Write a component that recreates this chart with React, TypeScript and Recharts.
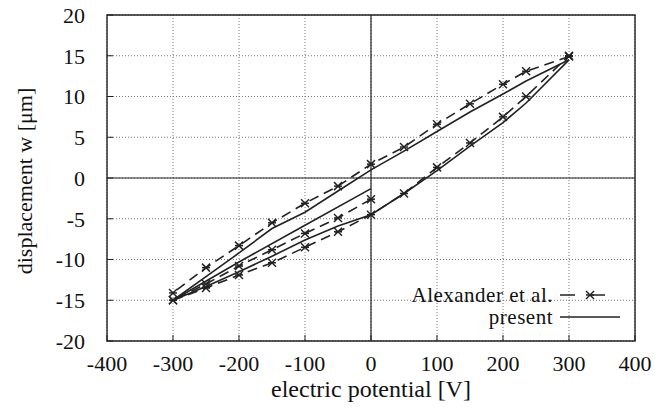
import React from "react";
import { LineChart, Line, XAxis, YAxis, CartesianGrid, ReferenceLine, ReferenceArea } from "recharts";

// descending branch (300 V -> -300 V)
const vDown = [300, 235, 200, 150, 100, 50, 0, -50, -100, -150, -200, -250, -300];
const alexDownW = [14.9, 13.1, 11.5, 9.1, 6.6, 3.8, 1.7, -1.0, -3.1, -5.5, -8.3, -11.0, -14.1];
const presDownW = [14.5, 11.9, 10.3, 8.1, 5.7, 3.3, 1.0, -1.6, -4.2, -6.2, -9.2, -12.1, -15.0];

// ascending branch (-300 V -> 300 V)
const vUp = [-300, -250, -200, -150, -100, -50, 0, 50, 100, 150, 200, 235, 300];
const alexUpW = [-15.0, -13.5, -11.9, -10.4, -8.5, -6.6, -4.5, -1.9, 1.3, 4.3, 7.5, 10.0, 15.0];
const presUpW = [-15.0, -13.3, -11.5, -9.6, -7.6, -5.9, -4.5, -1.9, 0.9, 3.9, 6.8, 9.2, 14.5];

// initial loading (0 V -> -300 V)
const vInitAlex = [0, -50, -100, -150, -200, -250, -300];
const alexInitW = [-2.6, -4.9, -6.8, -8.8, -10.8, -13.0, -15.0];
const vInitPres = [0, -100, -200, -300];
const presInitW = [-1.3, -5.8, -10.3, -15.0];

const xTicks = [-400, -300, -200, -100, 0, 100, 200, 300, 400];
const yTicks = [-20, -15, -10, -5, 0, 5, 10, 15, 20];

const rows = (vs: number[], ws: number[]) => vs.map((v, i) => ({ v, w: ws[i] }));

const font = "Liberation Serif, DejaVu Serif, serif";
const ink = "#222";
const fs = 22;

const Cross = (props: any) => {
  const { cx, cy } = props;
  if (cx == null || cy == null) return null;
  const s = 4;
  return (
    <g stroke={ink} strokeWidth={1.5}>
      <line x1={cx - s} y1={cy - s} x2={cx + s} y2={cy + s} />
      <line x1={cx - s} y1={cy + s} x2={cx + s} y2={cy - s} />
      <line x1={cx - s} y1={cy} x2={cx + s} y2={cy} />
    </g>
  );
};

const LegendBox = () => (
  <div style={{ position: "absolute", left: 340, top: 284, width: 280, fontFamily: font, fontSize: 21, color: "#111", lineHeight: "20px" }}>
    <div style={{ display: "flex", justifyContent: "flex-end", alignItems: "center", height: 22 }}>
      <span style={{ letterSpacing: 0.5 }}>Alexander et al.</span>
      <svg width={60} height={14} style={{ marginLeft: 7 }}>
        <line x1={0} y1={7} x2={60} y2={7} stroke={ink} strokeWidth={1.6} strokeDasharray="15 15" />
        <Cross cx={30} cy={7} />
      </svg>
    </div>
    <div style={{ display: "flex", justifyContent: "flex-end", alignItems: "center", height: 22 }}>
      <span style={{ letterSpacing: 0.5 }}>present</span>
      <svg width={60} height={14} style={{ marginLeft: 7 }}>
        <line x1={0} y1={7} x2={60} y2={7} stroke={ink} strokeWidth={1.6} />
      </svg>
    </div>
  </div>
);

export default function App() {
  const dashed = { stroke: ink, strokeWidth: 1.6, strokeDasharray: "10 6", dot: <Cross />, isAnimationActive: false, legendType: "none" as const };
  const solid = { stroke: ink, strokeWidth: 1.6, dot: false, isAnimationActive: false, legendType: "none" as const };
  return (
    <div style={{ position: "absolute", left: 0, top: 0, width: 655, height: 407, background: "#fff", fontFamily: font }}>
      <LineChart width={655} height={407} margin={{ top: 15, right: 20, bottom: 0, left: 0 }} style={{ fontFamily: font }}>
        <CartesianGrid stroke="#777" strokeDasharray="1 2" />
        <XAxis
          type="number"
          dataKey="v"
          domain={[-400, 400]}
          ticks={xTicks}
          allowDataOverflow
          height={66}
          tickSize={-6}
          tickMargin={20}
          axisLine={false}
          tickLine={{ stroke: ink }}
          tick={{ fill: "#111", fontFamily: font, fontSize: fs }}
          label={() => (
            <text x={371} y={397} textAnchor="middle" style={{ fontFamily: font, fontSize: 24 }} fill="#111">
              electric potential [V]
            </text>
          )}
        />
        <YAxis
          type="number"
          dataKey="w"
          domain={[-20, 20]}
          ticks={yTicks}
          allowDataOverflow
          width={107}
          tickSize={-6}
          tickMargin={28}
          axisLine={false}
          tickLine={{ stroke: ink }}
          tick={{ fill: "#111", fontFamily: font, fontSize: fs }}
          label={() => (
            <text x={32} y={181} transform="rotate(-90 32 181)" textAnchor="middle" style={{ fontFamily: font, fontSize: fs }} fill="#111">
              displacement w [μm]
            </text>
          )}
        />
        <ReferenceLine x={0} stroke={ink} strokeWidth={1.2} />
        <ReferenceLine y={0} stroke={ink} strokeWidth={1.2} />
        <ReferenceArea x1={-400} x2={400} y1={-20} y2={20} fill="none" stroke={ink} strokeWidth={1.4} />
        <Line data={rows(vDown, presDownW)} dataKey="w" name="present down" {...solid} />
        <Line data={rows(vUp, presUpW)} dataKey="w" name="present up" {...solid} />
        <Line data={rows(vInitPres, presInitW)} dataKey="w" name="present init" {...solid} />
        <Line data={rows(vDown, alexDownW)} dataKey="w" name="Alexander down" {...dashed} />
        <Line data={rows(vUp, alexUpW)} dataKey="w" name="Alexander up" {...dashed} />
        <Line data={rows(vInitAlex, alexInitW)} dataKey="w" name="Alexander init" {...dashed} />
      </LineChart>
      <LegendBox />
    </div>
  );
}
